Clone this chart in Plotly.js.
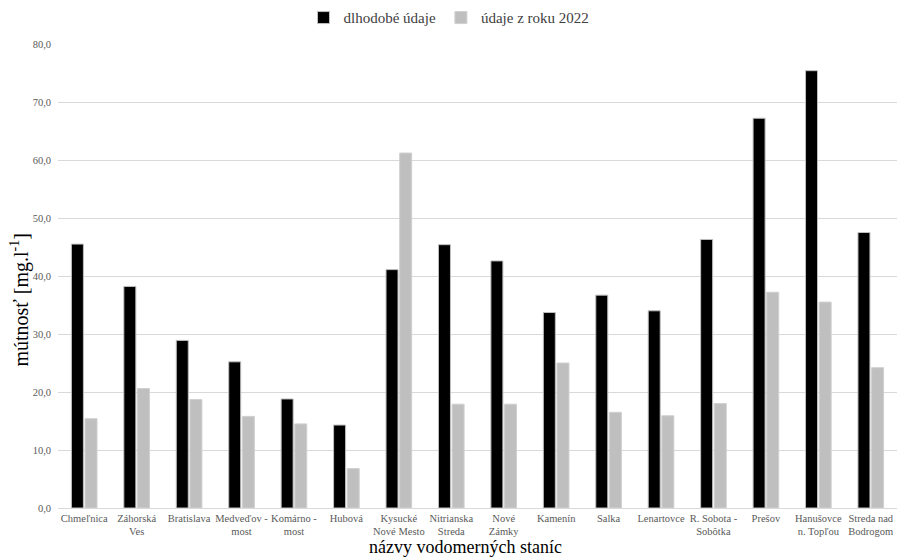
<!DOCTYPE html>
<html>
<head>
<meta charset="utf-8">
<script src="https://cdn.plot.ly/plotly-3.0.1.min.js"></script>
<style>html,body{margin:0;padding:0;background:#fff;}#chart{width:898px;height:557px;}</style>
</head>
<body>
<div id="chart"></div>
<script>
const stations = ["Chmeľnica", "Záhorská<br>Ves", "Bratislava", "Medveďov -<br>most", "Komárno -<br>most", "Hubová",
  "Kysucké<br>Nové Mesto", "Nitrianska<br>Streda", "Nové<br>Zámky", "Kamenín", "Salka", "Lenartovce",
  "R. Sobota -<br>Sobôtka", "Prešov", "Hanušovce<br>n. Topľou", "Streda nad<br>Bodrogom"];
const longTerm = [45.5, 38.2, 28.9, 25.2, 18.8, 14.3, 41.1, 45.4, 42.6, 33.7, 36.7, 34.0, 46.3, 67.2, 75.4, 47.5];
const year2022 = [15.4, 20.6, 18.7, 15.8, 14.5, 6.8, 61.2, 17.9, 17.9, 25.0, 16.5, 15.9, 18.0, 37.2, 35.5, 24.2];
const seriesNames = ["dlhodobé údaje", "údaje z roku 2022"];
const yTicks = [0, 10, 20, 30, 40, 50, 60, 70, 80];
const xTitle = "názvy vodomerných staníc";
const yTitle = "mútnosť [mg.l<sup>-1</sup>]";

const font = "'Liberation Serif', 'Times New Roman', serif";
const traces = [
  {type: "bar", name: seriesNames[0], x: stations, y: longTerm,
   marker: {color: "#000000", line: {color: "#bfbfbf", width: 1}}},
  {type: "bar", name: seriesNames[1], x: stations, y: year2022,
   marker: {color: "#bfbfbf", line: {color: "#d0d0d0", width: 1}}}
];
const layout = {
  width: 898, height: 557,
  margin: {l: 58, r: 1, t: 44, b: 49},
  paper_bgcolor: "#fff", plot_bgcolor: "#fff",
  font: {family: font, color: "#595959", size: 10.5},
  barmode: "group", bargap: 0.48, bargroupgap: 0.12,
  showlegend: true,
  legend: {orientation: "h", x: 0.5, xanchor: "center", xref: "container",
    y: 0.968, yanchor: "middle", yref: "container",
    font: {family: font, size: 15, color: "#404040"}, itemwidth: 30, traceorder: "normal"},
  xaxis: {
    tickfont: {family: font, size: 10.5, color: "#595959"},
    showline: true, linecolor: "#d9d9d9", linewidth: 1,
    ticks: "", showgrid: false, tickangle: 0, automargin: false
  },
  yaxis: {
    range: [0, 80], tickvals: yTicks, tickformat: ".1f",
    tickfont: {family: font, size: 10.5, color: "#595959"},
    showgrid: true, gridcolor: "#d9d9d9", gridwidth: 1,
    zeroline: false, showline: false, ticks: "", ticklabelstandoff: 6, automargin: false
  },
  annotations: [
    {text: xTitle, xref: "paper", yref: "paper", x: 0.486, y: -0.085, xanchor: "center", yanchor: "middle",
     showarrow: false, font: {family: font, size: 18, color: "#000"}},
    {text: yTitle, xref: "paper", yref: "paper", x: -0.046, y: 0.45, xanchor: "center", yanchor: "middle",
     textangle: -90, showarrow: false, font: {family: font, size: 20, color: "#000"}}
  ],
  separators: ", "
};
Plotly.newPlot("chart", traces, layout, {displayModeBar: false, staticPlot: true});
</script>
</body>
</html>
